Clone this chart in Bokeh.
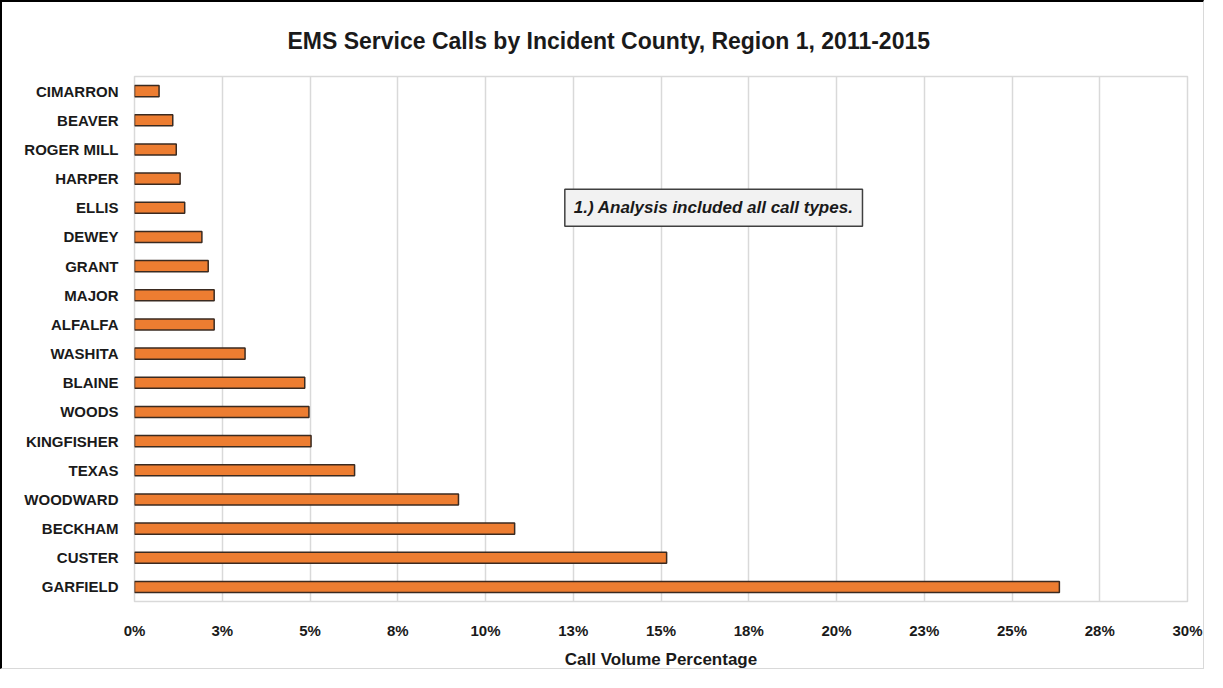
from bokeh.plotting import figure
from bokeh.models import FixedTicker, Label, FactorRange, Range1d
from bokeh.embed import file_html
from bokeh.resources import INLINE

# Data (top to bottom as in the reference)
counties = ["CIMARRON", "BEAVER", "ROGER MILL", "HARPER", "ELLIS", "DEWEY", "GRANT",
            "MAJOR", "ALFALFA", "WASHITA", "BLAINE", "WOODS", "KINGFISHER", "TEXAS",
            "WOODWARD", "BECKHAM", "CUSTER", "GARFIELD"]
pct = [0.70, 1.09, 1.19, 1.30, 1.43, 1.92, 2.10, 2.27, 2.27, 3.15, 4.85, 4.97, 5.03,
       6.27, 9.23, 10.83, 15.16, 26.35]
tick_values = [0, 2.5, 5, 7.5, 10, 12.5, 15, 17.5, 20, 22.5, 25, 27.5, 30]
tick_labels = ["0%", "3%", "5%", "8%", "10%", "13%", "15%", "18%", "20%", "23%",
               "25%", "28%", "30%"]
note = "1.) Analysis included all call types."

FONT = "'Liberation Sans', Arial, sans-serif"

factors = list(reversed(counties))  # first factor is drawn at the bottom

p = figure(width=1204, height=669, output_backend="svg", toolbar_location=None,
           y_range=FactorRange(factors=factors, range_padding=0),
           x_range=Range1d(0, 30),
           min_border_left=132, min_border_right=19, min_border_top=74,
           min_border_bottom=66)

p.styles = {"border-top": "2px solid #000", "border-left": "2px solid #000",
            "border-right": "1px solid #d9d9d9", "border-bottom": "1px solid #d9d9d9"}

p.title.text = "EMS Service Calls by Incident County, Region 1, 2011-2015"
p.title.align = "left"
p.title.vertical_align = "bottom"
p.title.offset = 153
p.title.text_font = FONT
p.title.text_font_size = "23px"
p.title.text_font_style = "bold"
p.title.text_color = "#1a1a1a"
p.title.standoff = 45

p.hbar(y=counties, right=pct, left=0, height=0.38, fill_color="#ED7D31",
       line_color="#3a2a20", line_width=1.5)

p.xaxis.ticker = FixedTicker(ticks=tick_values)
p.xaxis.major_label_overrides = {v: l for v, l in zip(tick_values, tick_labels)}
p.xaxis.axis_label = "Call Volume Percentage"
for ax in (p.xaxis[0], p.yaxis[0]):
    ax.axis_line_color = None
    ax.major_tick_line_color = None
    ax.minor_tick_line_color = None
    ax.major_label_text_font = FONT
    ax.major_label_text_font_style = "bold"
    ax.major_label_text_color = "#1a1a1a"
p.xaxis.major_label_text_font_size = "15px"
p.yaxis.major_label_text_font_size = "15px"
p.xaxis.major_label_standoff = 14
p.yaxis.major_label_standoff = 10
p.xaxis.axis_label_text_font = FONT
p.xaxis.axis_label_text_font_size = "17px"
p.xaxis.axis_label_text_font_style = "bold"
p.xaxis.axis_label_text_color = "#1a1a1a"
p.xaxis.axis_label_standoff = 8

p.ygrid.grid_line_color = None
p.xgrid.grid_line_color = "#d9d9d9"
p.xgrid.grid_line_width = 1.5
p.outline_line_color = "#d9d9d9"
p.outline_line_width = 1.5

lbl = Label(x=16.5, y=factors.index("ELLIS") + 0.5, text=note,
            text_align="center", text_baseline="middle",
            text_font=FONT, text_font_size="17px", text_font_style="bold italic",
            text_color="#1a1a1a",
            background_fill_color="#f2f2f2", border_line_color="#404040",
            border_line_width=1.5, padding=9)
p.add_layout(lbl)

open("out.html", "w").write(file_html(p, INLINE))
